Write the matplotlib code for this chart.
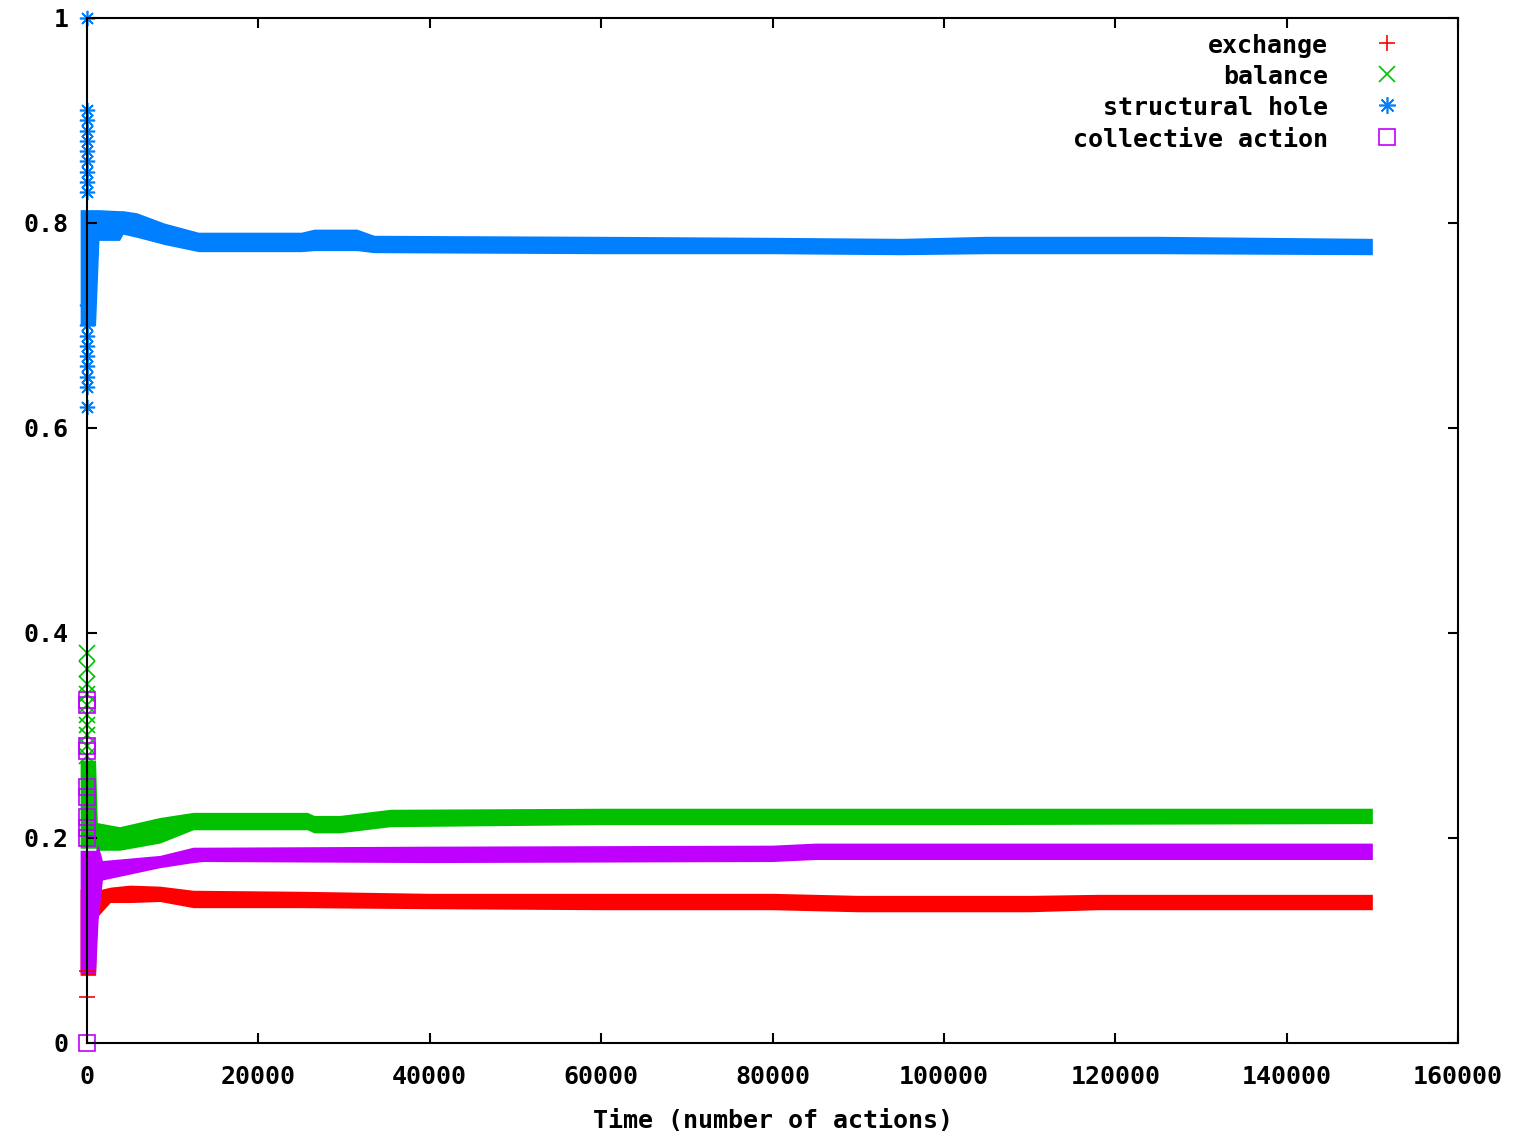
import matplotlib.pyplot as plt

plt.rcParams['font.family'] = 'DejaVu Sans Mono'
plt.rcParams['font.weight'] = 'bold'
plt.rcParams['axes.labelweight'] = 'bold'

# band (min/max envelope) of each running share, sampled along time
ex_t = [-800, 1000, 1200, 2700, 5000, 8500, 12400, 25000, 40000, 60000, 80000, 90000, 110000, 118000, 150000]
ex_hi = [0.150, 0.150, 0.149, 0.152, 0.154, 0.153, 0.149, 0.148, 0.146, 0.146, 0.146, 0.144, 0.144, 0.145, 0.145]
ex_lo = [0.066, 0.066, 0.123, 0.137, 0.137, 0.138, 0.132, 0.132, 0.131, 0.130, 0.130, 0.128, 0.128, 0.130, 0.130]

bal_t = [-800, 1000, 1200, 3800, 8500, 12400, 25700, 26500, 29500, 35400, 60000, 100000, 150000]
bal_hi = [0.276, 0.276, 0.215, 0.211, 0.220, 0.225, 0.225, 0.222, 0.222, 0.228, 0.229, 0.229, 0.229]
bal_lo = [0.190, 0.190, 0.188, 0.188, 0.195, 0.208, 0.208, 0.205, 0.205, 0.211, 0.213, 0.213, 0.214]

sh_t = [-800, 1000, 1400, 3800, 4200, 5800, 9000, 13000, 25000, 26500, 31500, 33500, 60000, 80000, 95000,
        105000, 125000, 150000]
sh_hi = [0.813, 0.813, 0.813, 0.812, 0.812, 0.810, 0.800, 0.791, 0.791, 0.794, 0.794, 0.788, 0.787, 0.786,
         0.785, 0.787, 0.787, 0.785]
sh_lo = [0.700, 0.700, 0.783, 0.783, 0.789, 0.786, 0.779, 0.772, 0.772, 0.773, 0.773, 0.771, 0.770, 0.770,
         0.769, 0.770, 0.770, 0.769]

ca_t = [-800, 1000, 1300, 1800, 8500, 12400, 13500, 40000, 80000, 85000, 150000]
ca_hi = [0.188, 0.188, 0.193, 0.178, 0.183, 0.191, 0.191, 0.192, 0.193, 0.195, 0.195]
ca_lo = [0.068, 0.068, 0.120, 0.159, 0.171, 0.176, 0.177, 0.176, 0.177, 0.179, 0.179]

# scattered values of the first few actions (t = 0)
ex_early = [0.07, 0.045]
bal_early = [0.38, 0.365, 0.35, 0.34, 0.33, 0.32, 0.31, 0.30, 0.29, 0.28]
sh_early = [1.0, 0.91, 0.90, 0.89, 0.88, 0.87, 0.86, 0.85, 0.84, 0.83,
            0.72, 0.70, 0.69, 0.68, 0.67, 0.66, 0.65, 0.64, 0.62]
ca_early = [0.335, 0.33, 0.29, 0.285, 0.25, 0.24, 0.22, 0.21, 0.20, 0.0]

names = ['exchange', 'balance', 'structural hole', 'collective action']
colors = ['#ff0000', '#00c000', '#0080ff', '#c000ff']
markers = ['+', 'x', (8, 2, 0), 's']

x_ticks = [0, 20000, 40000, 60000, 80000, 100000, 120000, 140000, 160000]
y_ticks = [0, 0.2, 0.4, 0.6, 0.8, 1]

fig = plt.figure(figsize=(15.18, 11.37), dpi=100)
ax = fig.add_axes([0.0573, 0.0827, 0.9032, 0.9015])

bands = [(ex_t, ex_lo, ex_hi), (bal_t, bal_lo, bal_hi), (sh_t, sh_lo, sh_hi), (ca_t, ca_lo, ca_hi)]
early = [ex_early, bal_early, sh_early, ca_early]

for (t, lo, hi), first, color, mk in zip(bands, early, colors, markers):
    ax.fill_between(t, lo, hi, color=color, linewidth=0, clip_on=False)
    ax.plot([0] * len(first), first, linestyle='none', marker=mk, ms=11, mew=1.2,
            color=color, mfc='none', clip_on=False)

ax.set_xlim(0, 160000)
ax.set_ylim(0, 1)
ax.set_xticks(x_ticks)
ax.set_yticks(y_ticks)
ax.set_yticklabels([f'{v:g}' for v in y_ticks])
ax.tick_params(direction='in', length=7, width=1.5, top=True, right=True, labelsize=18)
ax.tick_params(axis='x', pad=16)
ax.tick_params(axis='y', pad=13)
for s in ax.spines.values():
    s.set_linewidth(1.5)

ax.set_xlabel('Time (number of actions)', fontsize=18, fontweight='bold', labelpad=14)

# key in the upper right: label then its point type
for i, (name, color, mk) in enumerate(zip(names, colors, markers)):
    yb = 0.9659 - i * 0.0305
    ax.text(0.905, yb, name, transform=ax.transAxes, ha='right', va='baseline', fontsize=18)
    ax.plot([0.948], [yb + 0.0098], transform=ax.transAxes, linestyle='none', marker=mk,
            ms=12, mew=1.2, color=color, mfc='none')

fig.savefig('out.png', dpi=100)
